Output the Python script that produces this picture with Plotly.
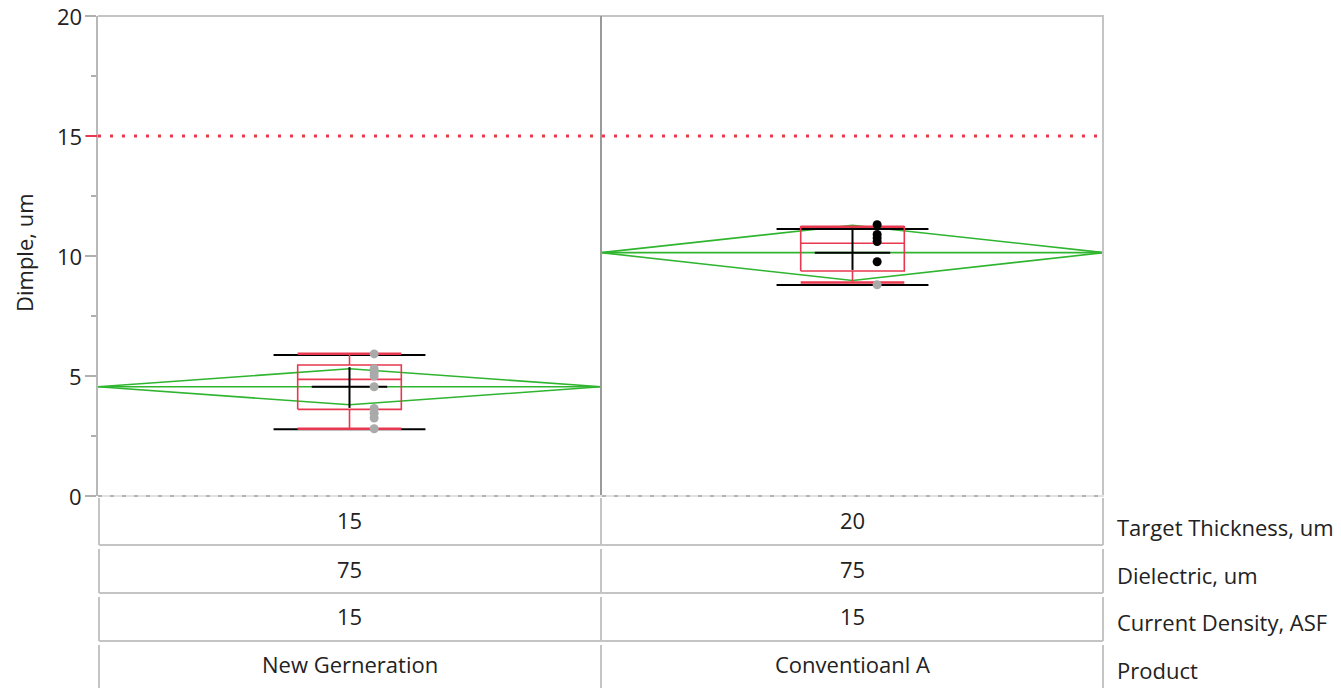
import plotly.graph_objects as go

# ---------------- data ----------------
categories = ["New Gerneration", "Conventioanl A"]
target_thickness = ["15", "20"]
dielectric = ["75", "75"]
current_density = ["15", "15"]
row_labels = ["Target Thickness, um", "Dielectric, um", "Current Density, ASF", "Product"]
y_ticks = [0, 5, 10, 15, 20]
y_minor_ticks = [2.5, 7.5, 12.5, 17.5]

points_new = [5.92, 5.3, 5.15, 5.0, 4.55, 3.65, 3.45, 3.25, 2.8]
points_new_colors = ["#aaaaaa"] * 9
points_conv = [11.3, 10.9, 10.75, 10.6, 9.76, 8.8]
points_conv_colors = ["#000000"] * 5 + ["#aaaaaa"]

q1 = [3.61, 9.375]
median = [4.86, 10.53]
q3 = [5.46, 11.22]
whisker_low = [2.8, 8.9]
whisker_high = [5.93, 11.22]
means = [4.55, 10.14]
ci_low = [3.8, 8.98]
ci_high = [5.3, 11.28]
sd_low = [3.67, 9.42]
sd_high = [5.37, 11.17]
range_min = [2.78, 8.79]
range_max = [5.87, 11.12]
spec_limit = 15

# ---------------- layout constants ----------------
W, H = 1341, 688
ML, MR, MT, MB = 98, 237, 16, 192
PW = W - ML - MR
PH = H - MT - MB
FONT = "Open Sans"
FS = 22
RED = "#e8384f"
GREEN = "#2fb52f"
GRID = "#c4c4c4"

centers = [i + 0.5 for i in range(len(categories))]
box_hw = 0.103
range_hw = 0.151
mean_hw = 0.075
pt_off = 0.049


def py(pix):
    """pixel y (from top of page) -> paper y"""
    return (H - MB - pix) / PH


def px(pix):
    return (pix - ML) / PW


fig = go.Figure()

# diamonds
dx, dy = [], []
for c, m, lo, hi in zip(centers, means, ci_low, ci_high):
    dx += [c - 0.5, c, c + 0.5, c, c - 0.5, None, c - 0.5, c + 0.5, None]
    dy += [m, hi, m, lo, m, None, m, m, None]
fig.add_trace(go.Scatter(x=dx, y=dy, mode="lines", line=dict(color=GREEN, width=1.6),
                         hoverinfo="skip", showlegend=False))

# black range bars
rx, ry = [], []
for c, lo, hi in zip(centers, range_min, range_max):
    rx += [c - range_hw, c + range_hw, None, c - range_hw, c + range_hw, None]
    ry += [lo, lo, None, hi, hi, None]
fig.add_trace(go.Scatter(x=rx, y=ry, mode="lines", line=dict(color="black", width=2),
                         hoverinfo="skip", showlegend=False))

# red box plots
bx, by = [], []
for c, a, md, b, wl, wh in zip(centers, q1, median, q3, whisker_low, whisker_high):
    bx += [c - box_hw, c + box_hw, c + box_hw, c - box_hw, c - box_hw, None,
           c - box_hw, c + box_hw, None,
           c, c, None, c, c, None]
    by += [a, a, b, b, a, None, md, md, None, b, wh, None, a, wl, None]
fig.add_trace(go.Scatter(x=bx, y=by, mode="lines", line=dict(color=RED, width=1.6),
                         hoverinfo="skip", showlegend=False))
cx, cy = [], []
for c, wl, wh in zip(centers, whisker_low, whisker_high):
    cx += [c - box_hw, c + box_hw, None, c - box_hw, c + box_hw, None]
    cy += [wl, wl, None, wh, wh, None]
fig.add_trace(go.Scatter(x=cx, y=cy, mode="lines", line=dict(color=RED, width=2.5),
                         hoverinfo="skip", showlegend=False))

# black mean / sd cross
sx, sy = [], []
for c, m, lo, hi in zip(centers, means, sd_low, sd_high):
    sx += [c, c, None, c - mean_hw, c + mean_hw, None]
    sy += [lo, hi, None, m, m, None]
fig.add_trace(go.Scatter(x=sx, y=sy, mode="lines", line=dict(color="black", width=2),
                         hoverinfo="skip", showlegend=False))

# points
fig.add_trace(go.Scatter(x=[centers[0] + pt_off] * len(points_new), y=points_new, mode="markers",
                         marker=dict(color=points_new_colors, size=9), showlegend=False))
fig.add_trace(go.Scatter(x=[centers[1] + pt_off] * len(points_conv), y=points_conv, mode="markers",
                         marker=dict(color=points_conv_colors, size=9), showlegend=False))

shapes = []
# spec limit dotted line
shapes.append(dict(type="line", xref="paper", yref="y", x0=0, x1=1, y0=spec_limit, y1=spec_limit,
                   line=dict(color=RED, width=3, dash="3px,9px")))
shapes.append(dict(type="line", xref="paper", yref="y", x0=px(86), x1=px(97), y0=spec_limit, y1=spec_limit,
                   line=dict(color=RED, width=2)))
# plot frame
shapes.append(dict(type="line", xref="paper", yref="paper", x0=0, x1=px(1104), y0=1, y1=1,
                   line=dict(color=GRID, width=2)))
shapes.append(dict(type="line", xref="paper", yref="paper", x0=px(1103), x1=px(1103), y0=0, y1=1,
                   line=dict(color=GRID, width=2)))
# divider between groups
shapes.append(dict(type="line", xref="x", yref="paper", x0=1, x1=1, y0=0, y1=1,
                   line=dict(color="#9a9a9a", width=2)))
# dashed bottom line
shapes.append(dict(type="line", xref="paper", yref="paper", x0=0, x1=1, y0=0, y1=0,
                   line=dict(color="#e2e2e2", width=2)))
shapes.append(dict(type="line", xref="paper", yref="paper", x0=0, x1=1, y0=0, y1=0,
                   line=dict(color="#b4b4b4", width=2, dash="4px,8px")))

# table rows
row_tops = [498, 549, 597, 645]
row_bots = [545, 593, 641, 700]
for t, b in zip(row_tops, row_bots):
    for xx in [99, 601, 1103]:
        shapes.append(dict(type="line", xref="paper", yref="paper", x0=px(xx), x1=px(xx),
                           y0=py(t), y1=py(b), line=dict(color=GRID, width=2)))
    shapes.append(dict(type="line", xref="paper", yref="paper", x0=px(99), x1=px(1103),
                       y0=py(b), y1=py(b), line=dict(color=GRID, width=2)))

annotations = []
rows = [target_thickness, dielectric, current_density, categories]
val_y = [520, 569, 616, 664]
lab_y = [527, 575, 622, 670]
for r, vals in enumerate(rows):
    for c, v in zip(centers, vals):
        annotations.append(dict(x=c, xref="x", y=py(val_y[r]), yref="paper", text=v, showarrow=False,
                                xanchor="center", yanchor="middle",
                                font=dict(family=FONT, size=FS, color="#222")))
    annotations.append(dict(x=px(1115), xref="paper", y=py(lab_y[r]), yref="paper", text=row_labels[r],
                            showarrow=False, xanchor="left", yanchor="middle",
                            font=dict(family=FONT, size=FS, color="#222")))
annotations.append(dict(x=0, xref="paper", xshift=-74, y=py(253), yref="paper", text="Dimple, um",
                        textangle=-90, showarrow=False, xanchor="center", yanchor="middle",
                        font=dict(family=FONT, size=FS, color="#222")))
# y tick labels (drawn as annotations on the y axis so the top one is not clipped)
for t in y_ticks:
    annotations.append(dict(x=0, xref="paper", xshift=-14, y=t, yref="y", text=str(t),
                            showarrow=False, xanchor="right", yanchor="middle",
                            font=dict(family=FONT, size=FS, color="#222")))

fig.update_layout(
    width=W, height=H,
    margin=dict(l=ML, r=MR, t=MT, b=MB, pad=0, autoexpand=False),
    paper_bgcolor="white", plot_bgcolor="white",
    shapes=shapes, annotations=annotations,
    xaxis=dict(range=[0, 2], visible=False, fixedrange=True, automargin=False),
    yaxis=dict(range=[0, 20], tickvals=y_ticks, ticks="outside", ticklen=11,
               automargin=False, showticklabels=False,
               tickcolor="#b0b0b0", tickwidth=2, showline=True, linecolor="#b8b8b8", linewidth=2,
               showgrid=False, zeroline=False,
               minor=dict(tickvals=y_minor_ticks, ticks="outside", ticklen=5,
                          tickcolor="#b0b0b0", tickwidth=2)),
    showlegend=False,
)

fig.write_html("out.html")
